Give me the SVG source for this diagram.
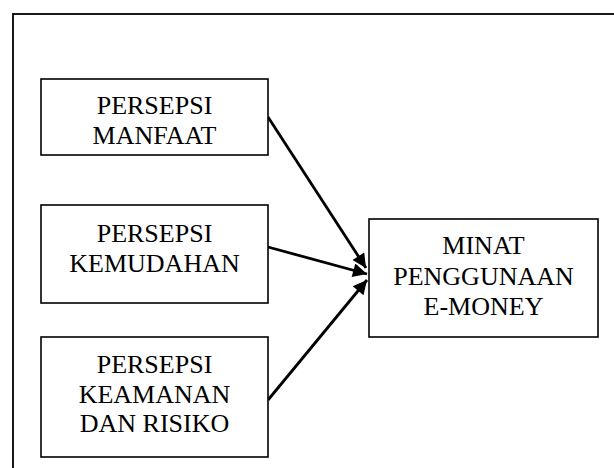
<svg xmlns="http://www.w3.org/2000/svg" width="614" height="468" viewBox="0 0 614 468">
<defs>
<style>
.box{fill:#fff;stroke:#000;stroke-width:1.6}
.t{font-family:"Liberation Serif","Times New Roman",serif;font-size:26px;fill:#000;text-anchor:middle}
.c{stroke:#000;stroke-width:2.8;fill:none}
</style>
<marker id="ah" viewBox="0 0 10 10" refX="10" refY="5" markerWidth="6" markerHeight="5" markerUnits="strokeWidth" orient="auto">
<path d="M0,0 L10,5 L0,10 Z" fill="#000"/>
</marker>
</defs>
<rect width="614" height="468" fill="#fff"/>
<rect x="13" y="14" width="620" height="480" fill="none" stroke="#000" stroke-width="1.8"/>
<g id="connectors">
<line class="c" x1="268" y1="117" x2="366" y2="268" marker-end="url(#ah)"/>
<line class="c" x1="268" y1="247" x2="367" y2="274" marker-end="url(#ah)"/>
<line class="c" x1="268" y1="400" x2="367" y2="280" marker-end="url(#ah)"/>
</g>
<g id="manfaat">
<rect class="box" x="41" y="79" width="227" height="76"/>
<text class="t" x="154.5" y="114">PERSEPSI</text>
<text class="t" x="154.5" y="143.5">MANFAAT</text>
</g>
<g id="kemudahan">
<rect class="box" x="41" y="205" width="227" height="98"/>
<text class="t" x="154.5" y="242">PERSEPSI</text>
<text class="t" x="154.5" y="272">KEMUDAHAN</text>
</g>
<g id="keamanan">
<rect class="box" x="41" y="337" width="227" height="120"/>
<text class="t" x="154.5" y="373">PERSEPSI</text>
<text class="t" x="154.5" y="402.5">KEAMANAN</text>
<text class="t" x="154.5" y="432">DAN RISIKO</text>
</g>
<g id="minat">
<rect class="box" x="369" y="219" width="229" height="118"/>
<text class="t" x="483.5" y="254">MINAT</text>
<text class="t" x="483.5" y="284.5">PENGGUNAAN</text>
<text class="t" x="483.5" y="315">E-MONEY</text>
</g>
</svg>
